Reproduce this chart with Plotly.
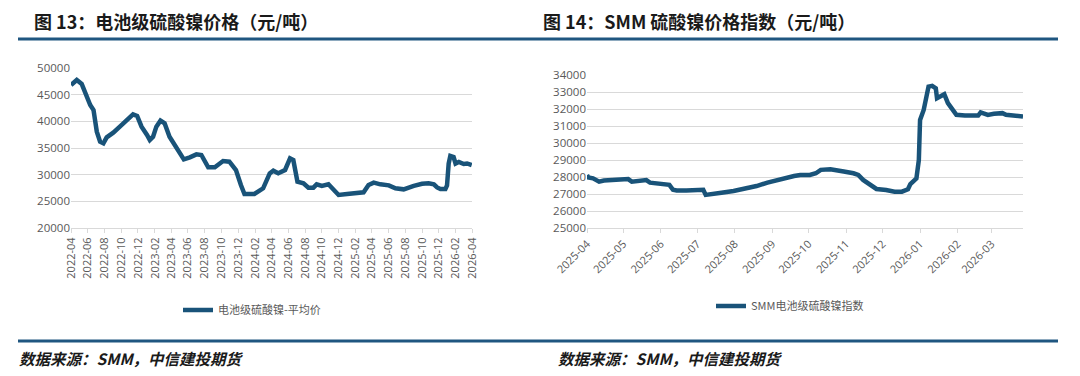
import plotly.graph_objects as go

W, H = 1080, 376
OFF = 8  # page body margin offset in the browser
FW, FH = W - OFF, H - OFF

# ---------------- data ----------------
left_dates = [
    "2022-04-01", "2022-04-22", "2022-05-10", "2022-05-22", "2022-06-10", "2022-06-22",
    "2022-07-04", "2022-07-16", "2022-07-28", "2022-08-09", "2022-09-02", "2022-09-26",
    "2022-10-20", "2022-11-13", "2022-11-28", "2022-12-14", "2023-01-03", "2023-01-13",
    "2023-01-25", "2023-02-06", "2023-02-21", "2023-03-08", "2023-03-26", "2023-04-14",
    "2023-04-26", "2023-05-17", "2023-06-08", "2023-07-02", "2023-07-20", "2023-08-14",
    "2023-09-07", "2023-10-07", "2023-10-30", "2023-11-23", "2023-12-11", "2023-12-24",
    "2024-01-29", "2024-03-01", "2024-03-25", "2024-04-07", "2024-04-25", "2024-05-20",
    "2024-06-07", "2024-06-19", "2024-07-04", "2024-07-26", "2024-08-13", "2024-08-31",
    "2024-09-12", "2024-10-01", "2024-10-25", "2024-11-13", "2024-12-01", "2025-01-01",
    "2025-02-06", "2025-03-02", "2025-03-20", "2025-04-08", "2025-05-02", "2025-06-02",
    "2025-06-26", "2025-07-26", "2025-09-01", "2025-10-01", "2025-10-25", "2025-11-13",
    "2025-11-25", "2025-12-07", "2025-12-25", "2025-12-31", "2026-01-06", "2026-01-12",
    "2026-01-24", "2026-01-31", "2026-02-12", "2026-03-02", "2026-03-14", "2026-03-31",
]
left_values = [
    46800, 47750, 47000, 45250, 43060, 42125,
    38060, 36190, 35880, 37000, 37870, 39000,
    40250, 41310, 41000, 39000, 37440, 36500,
    37125, 39000, 40125, 39625, 37125, 35560,
    34625, 32875, 33250, 33810, 33690, 31375,
    31375, 32560, 32440, 30875, 28060, 26375,
    26375, 27440, 30250, 30750, 30250, 30875,
    33060, 32750, 28690, 28375, 27560, 27560,
    28190, 27875, 28190, 27125, 26190, 26375,
    26690, 26690, 28060, 28500, 28190, 28000,
    27440, 27250, 27900, 28300, 28400, 28200,
    27600, 27300, 27300, 28000, 32100, 33500,
    33300, 32100, 32400, 32000, 32100, 31800,
]

right_dates = [
    "2025-04-01", "2025-04-02", "2025-04-06", "2025-04-11", "2025-04-15", "2025-04-20",
    "2025-04-28", "2025-05-05", "2025-05-08", "2025-05-13", "2025-05-20", "2025-05-23",
    "2025-05-27", "2025-05-31", "2025-06-08", "2025-06-11", "2025-06-14", "2025-06-22",
    "2025-07-01", "2025-07-06", "2025-07-08", "2025-07-14", "2025-07-21", "2025-07-31",
    "2025-08-11", "2025-08-19", "2025-08-28", "2025-09-02", "2025-09-10", "2025-09-19",
    "2025-09-24", "2025-10-02", "2025-10-07", "2025-10-11", "2025-10-19", "2025-10-24",
    "2025-10-30", "2025-11-07", "2025-11-11", "2025-11-15", "2025-11-21", "2025-11-26",
    "2025-12-04", "2025-12-11", "2025-12-17", "2025-12-22", "2025-12-24", "2025-12-29",
    "2025-12-31", "2026-01-01", "2026-01-04", "2026-01-06", "2026-01-08", "2026-01-11",
    "2026-01-14", "2026-01-15", "2026-01-18", "2026-01-21", "2026-01-24", "2026-01-28",
    "2026-01-31", "2026-02-07", "2026-02-18", "2026-02-20", "2026-02-23", "2026-02-26",
    "2026-03-03", "2026-03-10", "2026-03-13", "2026-03-19", "2026-03-27",
]
right_values = [
    28130, 27990, 27930, 27740, 27800, 27830,
    27870, 27890, 27740, 27800, 27830, 27680,
    27640, 27600, 27550, 27260, 27220, 27220,
    27220, 27260, 26960, 27000, 27090, 27190,
    27350, 27480, 27680, 27780, 27930, 28070,
    28130, 28130, 28230, 28430, 28470, 28430,
    28330, 28230, 28130, 27840, 27550, 27310,
    27250, 27150, 27150, 27290, 27600, 27930,
    29010, 31360, 31950, 32540, 33320, 33360,
    33220, 32640, 32770, 32870, 32350, 31950,
    31660, 31620, 31620, 31800, 31760, 31660,
    31720, 31760, 31660, 31620, 31560,
]

left_name = "电池级硫酸镍-平均价"
right_name = "SMM电池级硫酸镍指数"
left_title = "图 13：电池级硫酸镍价格（元/吨）"
right_title = "图 14：SMM 硫酸镍价格指数（元/吨）"
source_text = "数据来源：SMM，中信建投期货"

left_yticks = [20000, 25000, 30000, 35000, 40000, 45000, 50000]
right_yticks = [25000, 26000, 27000, 28000, 29000, 30000, 31000, 32000, 33000, 34000]

# ---------------- styling ----------------
LINE = "#195379"
GRID = "#d9d9d9"
TXT = "#595959"
RULE = "#1f5680"
SANS = "Open Sans, Noto Sans CJK SC, sans-serif"
CJK = "Noto Sans CJK SC, sans-serif"


def px(x):
    return (x - OFF) / FW


def py(y):
    return 1 - (y - OFF) / FH


fig = go.Figure()
fig.add_trace(go.Scatter(x=left_dates, y=left_values, mode="lines", name=left_name,
                         line=dict(color=LINE, width=4.5), xaxis="x", yaxis="y",
                         legend="legend"))
fig.add_trace(go.Scatter(x=right_dates, y=right_values, mode="lines", name=right_name,
                         line=dict(color=LINE, width=4.5), xaxis="x2", yaxis="y2",
                         legend="legend2"))

axis_common = dict(showline=True, linecolor=GRID, linewidth=1, ticks="outside",
                   ticklen=4, tickcolor=GRID, tickfont=dict(family=SANS, size=11, color=TXT),
                   showgrid=False, zeroline=False, type="date", fixedrange=True,
                   automargin=False)
yaxis_common = dict(showgrid=True, gridcolor=GRID, gridwidth=1, zeroline=False,
                    showline=False, ticks="", tickformat="d", automargin=False,
                    tickfont=dict(family=SANS, size=11.5, color=TXT), fixedrange=True)

fig.update_layout(
    width=FW, height=FH,
    margin=dict(l=0, r=0, t=0, b=0, autoexpand=False),
    paper_bgcolor="white", plot_bgcolor="white",
    xaxis=dict(axis_common, domain=[px(71), px(472)], anchor="y",
               range=["2022-04-01", "2026-04-01"], dtick="M2", tick0="2022-04-01",
               tickformat="%Y-%m", tickangle=-90),
    yaxis=dict(yaxis_common, domain=[py(228), py(68)], anchor="x",
               range=[20000, 50000], tickvals=left_yticks),
    xaxis2=dict(axis_common, domain=[px(587), px(1023)], anchor="y2",
                range=["2025-04-01", "2026-03-27"], dtick="M1", tick0="2025-04-01",
                tickformat="%Y-%m", tickangle=-45),
    yaxis2=dict(yaxis_common, domain=[py(228.3), py(75)], anchor="x2",
                range=[25000, 34000], tickvals=right_yticks),
    legend=dict(orientation="h", x=px(178), y=py(310), xanchor="left", yanchor="middle",
                font=dict(family=CJK, size=11, color=TXT), bgcolor="rgba(0,0,0,0)"),
    legend2=dict(orientation="h", x=px(711), y=py(306), xanchor="left", yanchor="middle",
                 font=dict(family=CJK, size=11, color=TXT), bgcolor="rgba(0,0,0,0)"),
    showlegend=True,
)

# rules
fig.add_shape(type="line", xref="paper", yref="paper", x0=px(18), x1=px(1058),
              y0=py(39), y1=py(39), line=dict(color=RULE, width=3))
fig.add_shape(type="line", xref="paper", yref="paper", x0=px(18), x1=px(1058),
              y0=py(341), y1=py(341), line=dict(color=RULE, width=3))

# titles
for xpos, txt in [(33, left_title), (542, right_title)]:
    fig.add_annotation(x=px(xpos), y=py(21), xref="paper", yref="paper", text=f"<b>{txt}</b>",
                       showarrow=False, xanchor="left", yanchor="middle", borderpad=0,
                       font=dict(family=CJK, size=18, color="#1a1a1a"))

# sources
for xpos in [17, 556]:
    fig.add_annotation(x=px(xpos), y=py(358), xref="paper", yref="paper",
                       text=f"<b><i>{source_text}</i></b>", showarrow=False,
                       xanchor="left", yanchor="middle",
                       font=dict(family=CJK, size=15.5, color="#1a1a1a"))

fig.write_html("out.html")
